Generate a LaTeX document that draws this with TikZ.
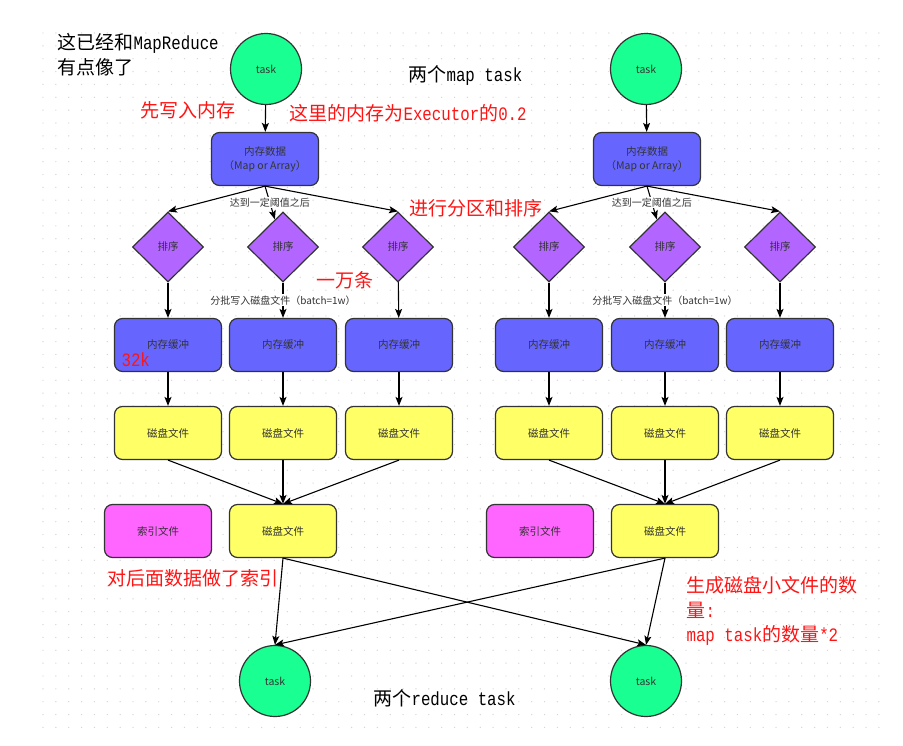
\documentclass[tikz,border=0pt]{standalone}
\usepackage{fontspec}
\setmainfont{Noto Sans CJK SC}
\newfontfamily\latinmono[FakeStretch=0.83]{Liberation Mono}
\usetikzlibrary{shapes.geometric,arrows.meta}
\definecolor{taskgreen}{RGB}{25,255,145}
\definecolor{memblue}{RGB}{102,102,255}
\definecolor{sortpurple}{RGB}{178,102,255}
\definecolor{diskyellow}{RGB}{255,255,102}
\definecolor{idxpink}{RGB}{255,102,255}
\definecolor{edgegray}{RGB}{51,51,51}
\definecolor{notered}{RGB}{255,20,20}
\tikzset{
  procbox/.style={draw=edgegray, line width=1.2pt, rounded corners=8pt, minimum width=107pt, minimum height=53pt,
    text=edgegray, align=center, font=\fontsize{10.5}{14}\selectfont},
  memnode/.style={procbox, fill=memblue},
  disknode/.style={procbox, fill=diskyellow},
  idxnode/.style={procbox, fill=idxpink},
  tasknode/.style={circle, draw=edgegray, line width=1.2pt, fill=taskgreen, minimum size=71pt, inner sep=0pt,
    text=edgegray, font=\fontsize{10.5}{12}\selectfont},
  sortnode/.style={diamond, aspect=1, draw=edgegray, line width=1.2pt, fill=sortpurple, minimum width=71pt,
    minimum height=70pt, inner sep=0pt, text=edgegray, font=\fontsize{10.5}{12}\selectfont},
  edgelbl/.style={fill=white, inner sep=1pt, text=edgegray, font=\fontsize{10}{12}\selectfont},
  anno/.style={anchor=west, inner sep=0pt, align=left, font=\fontsize{19}{24.5}\selectfont},
}
\begin{document}
\begin{tikzpicture}[x=1pt, y=-1pt, line width=1.1pt, >={Stealth[length=9pt,width=7pt,inset=2pt]}]
  \fill[white] (0,0) rectangle (903,746); \useasboundingbox (0,0) rectangle (903,746);
  % dotted page grid
  \foreach \i in {0,...,65} \foreach \j in {0,...,54} \fill[black!16] (43+12.86*\i, 33+12.86*\j) circle (0.7pt);

  % two map tasks
  \node[tasknode] (ma) at (266,69) {task}; \node[tasknode] (mb) at (646,69) {task};
  \node[memnode] (da) at (265,159) {内存数据\\（Map or Array）}; \node[memnode] (db) at (647,159) {内存数据\\（Map or Array）};
  \node[sortnode] (sa1) at (168,247) {排序}; \node[sortnode] (sa2) at (283,247) {排序}; \node[sortnode] (sa3) at (398,247) {排序};
  \node[sortnode] (sb1) at (549,247) {排序}; \node[sortnode] (sb2) at (665,247) {排序}; \node[sortnode] (sb3) at (780,247) {排序};
  \node[memnode] (ba1) at (168,345) {内存缓冲}; \node[memnode] (ba2) at (283,345) {内存缓冲}; \node[memnode] (ba3) at (399,345) {内存缓冲};
  \node[memnode] (bb1) at (549,345) {内存缓冲}; \node[memnode] (bb2) at (665,345) {内存缓冲}; \node[memnode] (bb3) at (780,345) {内存缓冲};
  \node[disknode] (fa1) at (168,433) {磁盘文件}; \node[disknode] (fa2) at (283,433) {磁盘文件}; \node[disknode] (fa3) at (399,433) {磁盘文件};
  \node[disknode] (fb1) at (549,433) {磁盘文件}; \node[disknode] (fb2) at (665,433) {磁盘文件}; \node[disknode] (fb3) at (780,433) {磁盘文件};
  \node[idxnode] (ia) at (158,531) {索引文件}; \node[disknode] (fa) at (283,531) {磁盘文件};
  \node[idxnode] (ib) at (540,531) {索引文件}; \node[disknode] (fb) at (665,531) {磁盘文件};
  % two reduce tasks
  \node[tasknode] (ra) at (275,681) {task}; \node[tasknode] (rb) at (646,681) {task};

  \draw[->] (ma) -- (da); \draw[->] (mb) -- (db);
  \draw[->] (da.south) -- (sa1.north); \draw[->] (da.south) -- node[edgelbl] {达到一定阈值之后} (sa2); \draw[->] (da.south) -- (sa3.north);
  \draw[->] (db.south) -- (sb1.north); \draw[->] (db.south) -- node[edgelbl] {达到一定阈值之后} (sb2); \draw[->] (db.south) -- (sb3.north);
  \draw[->] (sa1) -- (ba1); \draw[->] (sa2) -- node[edgelbl] {分批写入磁盘文件（batch=1w）} (ba2); \draw[->] (sa3) -- (ba3);
  \draw[->] (sb1) -- (bb1); \draw[->] (sb2) -- node[edgelbl] {分批写入磁盘文件（batch=1w）} (bb2); \draw[->] (sb3) -- (bb3);
  \draw[->] (ba1) -- (fa1); \draw[->] (ba2) -- (fa2); \draw[->] (ba3) -- (fa3);
  \draw[->] (bb1) -- (fb1); \draw[->] (bb2) -- (fb2); \draw[->] (bb3) -- (fb3);
  \draw[->] (fa1.south) -- (fa.north); \draw[->] (fa2) -- (fa); \draw[->] (fa3.south) -- (fa.north);
  \draw[->] (fb1.south) -- (fb.north); \draw[->] (fb2) -- (fb); \draw[->] (fb3.south) -- (fb.north);
  \draw[->] (fa.south) -- (ra.north); \draw[->] (fa.south) -- (rb.north);
  \draw[->] (fb.south) -- (ra.north); \draw[->] (fb.south) -- (rb.north);

  % notes
  \node[anno] (n1) at (57,43) {这已经和{\latinmono MapReduce}}; \node[anno] (n2) at (57,67) {有点像了};
  \node[anno] (n3) at (408,75) {两个{\latinmono map task}};
  \node[anno, text=notered] (n4) at (140,110) {先写入内存};
  \node[anno, text=notered] (n5) at (289,113) {这里的内存为{\latinmono Executor}的{\latinmono 0.2}};
  \node[anno, text=notered] (n6) at (409,208) {进行分区和排序};
  \node[anno, text=notered] (n7) at (316,280) {一万条};
  \node[anno, text=notered] (n8) at (121,360) {\latinmono 32k};
  \node[anno, text=notered] (n9) at (107,578) {对后面数据做了索引};
  \node[anno, text=notered] (n10) at (686,611) {生成磁盘小文件的数\\量{\latinmono :}\\{\latinmono map task}的数量{\latinmono *2}};
  \node[anno] (n11) at (373,698) {两个{\latinmono reduce task}};
\end{tikzpicture}
\end{document}
